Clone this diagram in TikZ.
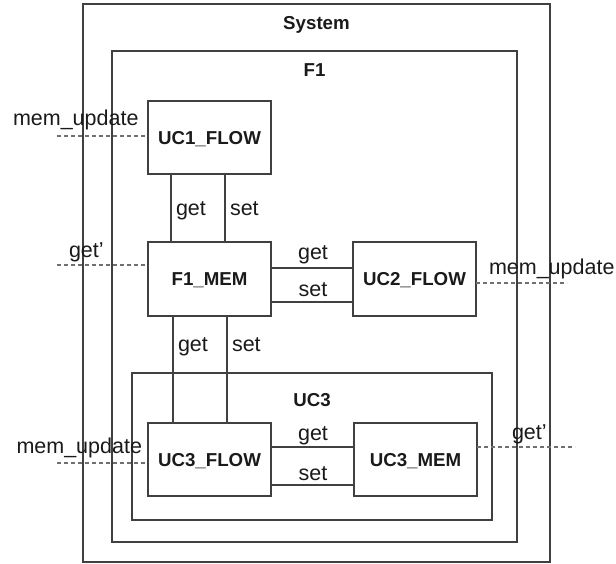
\documentclass[tikz,border=0pt]{standalone}
\usepackage{fontspec}
\setmainfont{Liberation Sans}
\usetikzlibrary{calc}
\definecolor{linec}{HTML}{404040}
\definecolor{dashc}{HTML}{707070}
\definecolor{textc}{HTML}{1A1A1A}
\begin{document}
\begin{tikzpicture}[x=1pt,y=-1pt,
  every node/.style={inner sep=0pt, outer sep=0pt, text=textc},
  block/.style={draw=linec, line width=1.1pt, minimum width=123pt, minimum height=73pt,
    font=\fontsize{18.7}{22}\selectfont\bfseries, text depth=0pt},
  frame/.style={draw=linec, line width=1.2pt, anchor=north west},
  title/.style={font=\fontsize{18.7}{22}\selectfont\bfseries, text depth=0pt},
  lbl/.style={font=\fontsize{21.5}{24}\selectfont, anchor=base west},
  clbl/.style={font=\fontsize{21.5}{24}\selectfont, anchor=base},
  wire/.style={draw=linec, line width=1.1pt},
  ext/.style={draw=dashc, line width=1.1pt, dash pattern=on 4pt off 3pt},
]
\useasboundingbox (0,0) rectangle (616,564);

% frames
\node[frame, minimum width=467pt, minimum height=558pt] (sys) at (83,4) {};
\node[frame, minimum width=405pt, minimum height=491pt] (f1) at (112,51) {};
\node[frame, minimum width=360pt, minimum height=147pt] (uc3) at (132,373) {};
\node[title] (systitle) at (316.5,22.5) {System};
\node[title] (f1title) at (314.5,70.5) {F1};
\node[title] (uc3title) at (312,399.5) {UC3};

% blocks
\node[block] (uc1) at (209.5,137.5) {UC1\_FLOW};
\node[block, minimum height=74pt] (f1mem) at (209.5,279) {F1\_MEM};
\node[block, minimum height=74pt] (uc2) at (414.5,279) {UC2\_FLOW};
\node[block] (uc3flow) at (209.5,459.5) {UC3\_FLOW};
\node[block] (uc3mem) at (415.5,459.5) {UC3\_MEM};

% vertical wires
\coordinate (a1) at (171,0);
\coordinate (a2) at (225,0);
\coordinate (b1) at (173,0);
\coordinate (b2) at (227,0);
\draw[wire] (uc1.south -| a1) -- (f1mem.north -| a1);
\draw[wire] (uc1.south -| a2) -- (f1mem.north -| a2);
\node[lbl] (l1) at (176,216) {get};
\node[lbl] (l2) at (230,216) {set};
\draw[wire] (f1mem.south -| b1) -- (uc3flow.north -| b1);
\draw[wire] (f1mem.south -| b2) -- (uc3flow.north -| b2);
\node[lbl] (l3) at (178,351) {get};
\node[lbl] (l4) at (232,351) {set};

% horizontal wires
\coordinate (h1) at (0,268);
\coordinate (h2) at (0,302);
\draw[wire] (f1mem.east |- h1) -- (uc2.west |- h1);
\draw[wire] (f1mem.east |- h2) -- (uc2.west |- h2);
\node[clbl] (l5) at (313,260) {get};
\node[clbl] (l6) at (313,297) {set};
\coordinate (h3) at (0,447);
\coordinate (h4) at (0,485);
\draw[wire] (uc3flow.east |- h3) -- (uc3mem.west |- h3);
\draw[wire] (uc3flow.east |- h4) -- (uc3mem.west |- h4);
\node[clbl] (l7) at (313,440) {get};
\node[clbl] (l8) at (313,480) {set};

% external dashed connectors
\coordinate (e1) at (57,136);
\draw[ext] (e1) -- (uc1.west |- e1);
\node[lbl] (t1) at (13,126) {mem\_update};
\coordinate (e2) at (57,265);
\draw[ext] (e2) -- (f1mem.west |- e2);
\node[lbl] (t2) at (69,258) {get'};
\coordinate (e3) at (567,283);
\draw[ext] (uc2.east |- e3) -- (e3);
\node[lbl] (t3) at (489,275) {mem\_update};
\coordinate (e4) at (57,463);
\draw[ext] (e4) -- (uc3flow.west |- e4);
\node[lbl] (t4) at (16.5,453) {mem\_update};
\coordinate (e5) at (575,447);
\draw[ext] (uc3mem.east |- e5) -- (e5);
\node[lbl] (t5) at (512,439) {get'};
\end{tikzpicture}
\end{document}
